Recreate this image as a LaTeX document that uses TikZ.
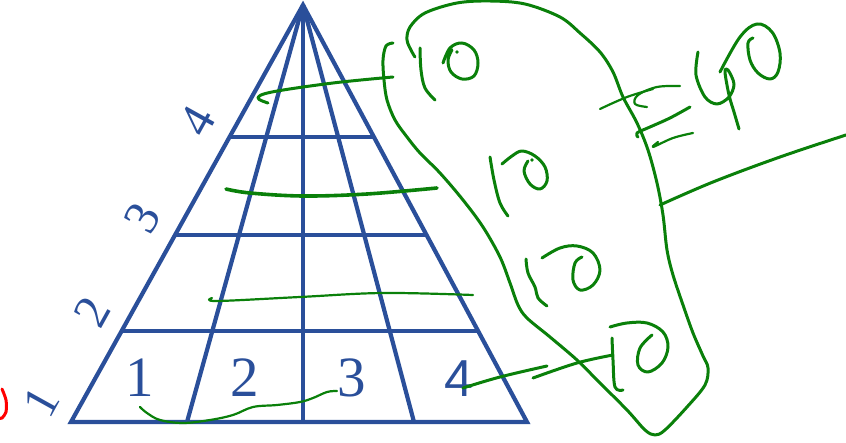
\documentclass[tikz,border=0pt]{standalone}
\usepackage{fontspec}
\usetikzlibrary{calc}
\newfontfamily\serifd{Liberation Serif}
\newfontfamily\sansd{Liberation Sans}
\definecolor{tblue}{HTML}{2A4F9A}
\definecolor{pgreen}{HTML}{0A800A}
\definecolor{pred}{HTML}{FF0000}
\tikzset{
  tri/.style={draw=tblue, line width=4.2pt, line cap=butt, line join=miter},
  pen/.style={draw=pgreen, line width=3pt, line cap=round, line join=round},
  thinpen/.style={draw=pgreen, line width=2.2pt, line cap=round, line join=round},
  basenum/.style={text=tblue, font=\serifd\fontsize{57}{57}\selectfont, anchor=base, inner sep=0pt},
  sidenum/.style={text=tblue, font=\serifd\fontsize{49}{49}\selectfont, rotate=61, inner sep=0pt},
}
\begin{document}
\begin{tikzpicture}[x=1pt,y=-1pt]
\useasboundingbox (0,0) rectangle (846,443);
% triangle skeleton
\coordinate (A) at (303,5);
\coordinate (B0) at (71,422);
\coordinate (B1) at (187,422);
\coordinate (B2) at (303,422);
\coordinate (B3) at (414,422);
\coordinate (B4) at (527,422);
\draw[tri] (B0) -- (A) -- (B4) -- cycle;
\draw[tri] (A) -- (B1);
\draw[tri] (A) -- (B2);
\draw[tri] (A) -- (B3);
\draw[tri] ($(A)!0.3165!(B0)$) -- ($(A)!0.3165!(B4)$);
\draw[tri] ($(A)!0.5516!(B0)$) -- ($(A)!0.5516!(B4)$);
\draw[tri] ($(A)!0.7818!(B0)$) -- ($(A)!0.7818!(B4)$);
% base numbers
\node[basenum] (n1) at (140,397) {1};
\node[basenum] (n2) at (245,397) {2};
\node[basenum] (n3) at (352,397) {3};
\node[basenum, font=\sansd\fontsize{52}{52}\selectfont] (n4) at (459,397) {4};
% side numbers
\node[sidenum] (s1) at (41,402) {1};
\node[sidenum] (s2) at (92,312) {2};
\node[sidenum] (s3) at (142,218) {3};
\node[sidenum] (s4) at (197,121) {4};
% red mark
\draw[draw=pred, line width=3pt, line cap=round] plot[smooth] coordinates {(2,389) (6,400) (6,412) (2,418) (0,418)};
% green lines across triangle
\draw[pen] plot[smooth, tension=0.6] coordinates {(268,103) (258,98) (272,92) (333,83) (393,77)};
\draw[pen, line width=3.6pt] plot[smooth, tension=0.6] coordinates {(226,189) (250,193) (303,196) (367,194) (437,188)};
\draw[thinpen] plot[smooth, tension=0.6] coordinates {(212,298) (217,301) (300,297) (383,293) (473,295)};
\draw[thinpen] plot[smooth, tension=0.6] coordinates {(140,407) (147,413) (160,420) (183,423) (210,420) (233,415) (253,407) (277,405) (300,402) (313,398) (327,392) (337,391)};
\draw[pen] plot[smooth, tension=0.6] coordinates {(463,388) (500,377) (547,366)};
\draw[pen] plot[smooth, tension=0.6] coordinates {(533,378) (577,363) (613,355)};
% blob outline
\draw[pen] plot[smooth, tension=0.55] coordinates {(393,43) (386,46) (383,60) (384,80) (387,100) (395,120) (407,137) (420,153) (440,173) (463,200) (483,227) (500,257) (510,283) (518,305) (527,318) (550,337) (577,360) (597,380) (627,410) (645,430) (655,435) (665,430) (687,407) (705,385) (708,368) (703,356) (693,333) (683,305) (673,275) (667,250) (663,215) (657,183) (648,150) (637,123) (623,97) (613,72) (600,52) (580,33) (560,17) (525,4) (490,1) (457,3) (425,13) (410,27) (407,40) (412,52) (415,57)};
% long line to the right
\draw[pen] plot[smooth, tension=0.6] coordinates {(660,205) (713,182) (780,157) (846,135)};
% 10 (1)
\draw[pen] plot[smooth, tension=0.6] coordinates {(420,48) (421,70) (425,88) (435,100)};
\draw[pen] plot[smooth, tension=0.6] coordinates {(443,63) (450,48) (462,43) (474,50) (478,63) (474,76) (462,79) (451,72) (448,60) (452,50)};
\fill[pgreen] (457,52) circle (1.8pt);
% 10 (2)
\draw[pen] plot[smooth, tension=0.6] coordinates {(490,157) (494,180) (500,203) (508,216)};
\draw[pen] plot[smooth, tension=0.6] coordinates {(502,164) (512,156) (522,151) (535,156) (545,167) (547,181) (540,189) (530,184) (524,171) (528,161)};
\fill[pgreen] (532,160) circle (1.8pt);
% 10 (3)
\draw[pen] plot[smooth, tension=0.6] coordinates {(526,259) (528,273) (535,287) (538,298) (547,306)};
\draw[pen] plot[smooth, tension=0.6] coordinates {(542,258) (560,248) (577,246) (593,253) (600,270) (593,285) (580,290) (573,280) (575,263) (582,257)};
% 10 (4)
\draw[pen] plot[smooth, tension=0.6] coordinates {(612,338) (613,360) (615,387) (623,390)};
\draw[pen] plot[smooth, tension=0.6] coordinates {(610,327) (627,323) (647,323) (663,332) (668,347) (662,363) (648,372) (638,365) (640,348) (652,335)};
% = sign
\draw[thinpen] plot[smooth, tension=0.6] coordinates {(600,109) (627,97) (653,89)};
\draw[thinpen] plot[smooth, tension=0.6] coordinates {(680,86) (657,87) (638,95) (635,104) (647,107)};
\draw[pen] plot[smooth, tension=0.6] coordinates {(690,107) (670,118) (650,127) (637,133) (638,137)};
\draw[thinpen] plot[smooth, tension=0.6] coordinates {(693,133) (673,138) (653,147) (658,142)};
% 4
\draw[pen] plot[smooth, tension=0.55] coordinates {(698,52) (696,75) (705,97) (717,104) (729,97) (734,84) (728,70) (725,72) (729,95) (734,112) (739,129)};
% 0
\draw[pen] plot[smooth, tension=0.6] coordinates {(720,72) (740,37) (757,24) (772,32) (780,53) (778,72) (770,79) (758,73) (750,60) (748,43) (753,38)};
\end{tikzpicture}
\end{document}
